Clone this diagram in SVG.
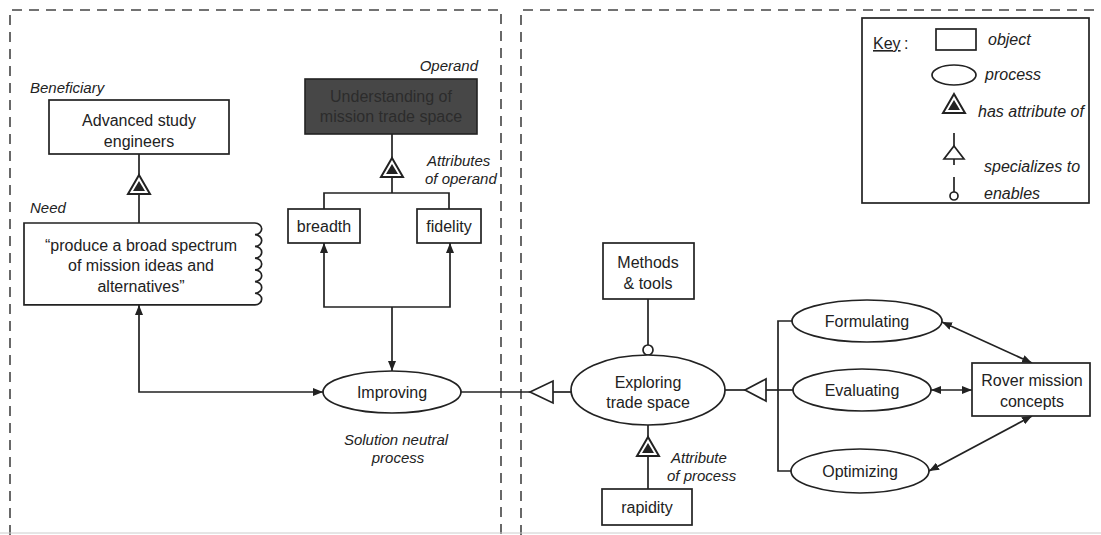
<svg xmlns="http://www.w3.org/2000/svg" xmlns:xlink="http://www.w3.org/1999/xlink" width="1101" height="535" viewBox="0 0 1101 535">
<style>
text{font-family:"Liberation Sans",Arial,sans-serif;fill:#222;}
.t{font-size:16px;text-anchor:middle;}
.lbl{font-size:15px;font-style:italic;}
.key{font-size:16px;font-style:italic;}
.box{fill:#fff;stroke:#222;stroke-width:1.7;}
.ell{fill:#fff;stroke:#222;stroke-width:1.7;}
.ln{fill:none;stroke:#222;stroke-width:1.7;}
.frame{fill:none;stroke:#444;stroke-width:1.6;stroke-dasharray:10 7;}
.hollow{fill:#fff;stroke:#222;stroke-width:1.7;}
</style>
<defs>
<marker id="ah" viewBox="0 0 10 8" refX="10" refY="4" markerWidth="10" markerHeight="8" markerUnits="userSpaceOnUse" orient="auto-start-reverse">
<path d="M0,0 L10,4 L0,8 z" fill="#222"/>
</marker>
<g id="attr">
<polygon points="0,0 11,19 -11,19" fill="#fff" stroke="#222" stroke-width="2"/>
<polygon points="0,6 6,16 -6,16" fill="#222"/>
</g>
</defs>

<!-- frames -->
<g id="frames">
<path class="frame" d="M10,535 V10 H501 V535"/>
<path class="frame" d="M521,535 V10 H1101"/>
<line x1="0" y1="533" x2="1101" y2="533" stroke="#ccc" stroke-width="1"/>
</g>

<!-- connectors -->
<g id="connectors">
<path class="ln" d="M139,154 V176"/>
<use xlink:href="#attr" x="139" y="175"/>
<path class="ln" d="M139,194 V223"/>
<path class="ln" d="M139,305 V392 H323" marker-start="url(#ah)" marker-end="url(#ah)"/>
<path class="ln" d="M392,134 V159"/>
<use xlink:href="#attr" x="392" y="158"/>
<path class="ln" d="M392,177 V193"/>
<path class="ln" d="M324,209 V193 H449 V209"/>
<path class="ln" d="M324,243 V307 H450 V243" marker-start="url(#ah)" marker-end="url(#ah)"/>
<path class="ln" d="M392,307 V371" marker-end="url(#ah)"/>
<path class="ln" d="M461,392 H530"/>
<polygon class="hollow" points="530,392 553,381 553,403"/>
<path class="ln" d="M553,392 H571"/>
<path class="ln" d="M648,299 V345"/>
<circle cx="648" cy="350" r="5" class="hollow"/>
<path class="ln" d="M725,390 H745"/>
<polygon class="hollow" points="745,390 766,379 766,401"/>
<path class="ln" d="M766,390 H793"/>
<path class="ln" d="M792,321 H778 V471 H791"/>
<path class="ln" d="M648,425 V438"/>
<use xlink:href="#attr" x="648" y="437"/>
<path class="ln" d="M648,456 V489"/>
<path class="ln" d="M942,322 L1032,363" marker-start="url(#ah)" marker-end="url(#ah)"/>
<path class="ln" d="M931,390 H972" marker-start="url(#ah)" marker-end="url(#ah)"/>
<path class="ln" d="M929,471 L1032,416" marker-start="url(#ah)" marker-end="url(#ah)"/>
</g>

<!-- nodes -->
<g id="beneficiary">
<text class="lbl" x="30" y="93">Beneficiary</text>
<rect class="box" x="49" y="100" width="180" height="54"/>
<text class="t" x="139" y="126">Advanced study</text>
<text class="t" x="139" y="147">engineers</text>
</g>

<g id="need">
<text class="lbl" x="30" y="213">Need</text>
<path class="box" d="M24,223 H255 a7,5.86 0 0 1 0,11.71 a7,5.86 0 0 1 0,11.71 a7,5.86 0 0 1 0,11.71 a7,5.86 0 0 1 0,11.71 a7,5.86 0 0 1 0,11.71 a7,5.86 0 0 1 0,11.71 a7,5.86 0 0 1 0,11.71 H24 Z"/>
<text class="t" x="141" y="251">“produce a broad spectrum</text>
<text class="t" x="141" y="271">of mission ideas and</text>
<text class="t" x="141" y="292">alternatives”</text>
</g>

<g id="operand">
<text class="lbl" x="478" y="71" text-anchor="end">Operand</text>
<rect x="305" y="79" width="172" height="55" fill="#474747" stroke="#222" stroke-width="1.6"/>
<text class="t" x="391" y="102" style="fill:#2c2c2c">Understanding of</text>
<text class="t" x="391" y="122" style="fill:#2c2c2c">mission trade space</text>
<text class="lbl" x="427" y="166">Attributes</text>
<text class="lbl" x="425" y="184">of operand</text>
</g>

<g id="breadth">
<rect class="box" x="288" y="209" width="72" height="34"/>
<text class="t" x="324" y="232">breadth</text>
</g>

<g id="fidelity">
<rect class="box" x="417" y="209" width="64" height="34"/>
<text class="t" x="449" y="232">fidelity</text>
</g>

<g id="improving">
<ellipse class="ell" cx="392" cy="392" rx="69" ry="21"/>
<text class="t" x="392" y="398">Improving</text>
<text class="lbl" x="396" y="445" text-anchor="middle">Solution neutral</text>
<text class="lbl" x="398" y="463" text-anchor="middle">process</text>
</g>

<g id="methods">
<rect class="box" x="603" y="243" width="91" height="56"/>
<text class="t" x="648" y="268">Methods</text>
<text class="t" x="648" y="289">&amp; tools</text>
</g>

<g id="exploring">
<ellipse class="ell" cx="648" cy="390" rx="77" ry="35"/>
<text class="t" x="648" y="388">Exploring</text>
<text class="t" x="648" y="408">trade space</text>
</g>

<g id="rapidity">
<text class="lbl" x="671" y="463">Attribute</text>
<text class="lbl" x="667" y="481">of process</text>
<rect class="box" x="602" y="489" width="90" height="36"/>
<text class="t" x="647" y="513">rapidity</text>
</g>

<g id="formulating">
<ellipse class="ell" cx="867" cy="321" rx="75" ry="21"/>
<text class="t" x="867" y="327">Formulating</text>
</g>

<g id="evaluating">
<ellipse class="ell" cx="862" cy="390" rx="69" ry="21"/>
<text class="t" x="862" y="396">Evaluating</text>
</g>

<g id="optimizing">
<ellipse class="ell" cx="860" cy="471" rx="69" ry="22"/>
<text class="t" x="860" y="477">Optimizing</text>
</g>

<g id="rover">
<rect class="box" x="972" y="363" width="118" height="53"/>
<text class="t" x="1032" y="386">Rover mission</text>
<text class="t" x="1032" y="407">concepts</text>
</g>

<g id="key">
<rect class="box" x="862" y="18" width="227" height="185"/>
<text x="873" y="49" style="font-size:16px;text-decoration:underline">Key</text>
<text x="904" y="49" style="font-size:16px">:</text>
<rect class="box" x="936" y="29" width="40" height="21"/>
<text class="key" x="988" y="45">object</text>
<ellipse class="ell" cx="954" cy="75" rx="22" ry="10"/>
<text class="key" x="985" y="80">process</text>
<use xlink:href="#attr" x="954" y="94"/>
<text class="key" x="978" y="117">has attribute of</text>
<path class="ln" d="M954,133 V165"/>
<polygon class="hollow" points="954,146 964,159 944,159"/>
<text class="key" x="984" y="172">specializes to</text>
<path class="ln" d="M954,177 V192"/>
<circle class="hollow" cx="954" cy="196" r="4"/>
<text class="key" x="984" y="199">enables</text>
</g>
</svg>
